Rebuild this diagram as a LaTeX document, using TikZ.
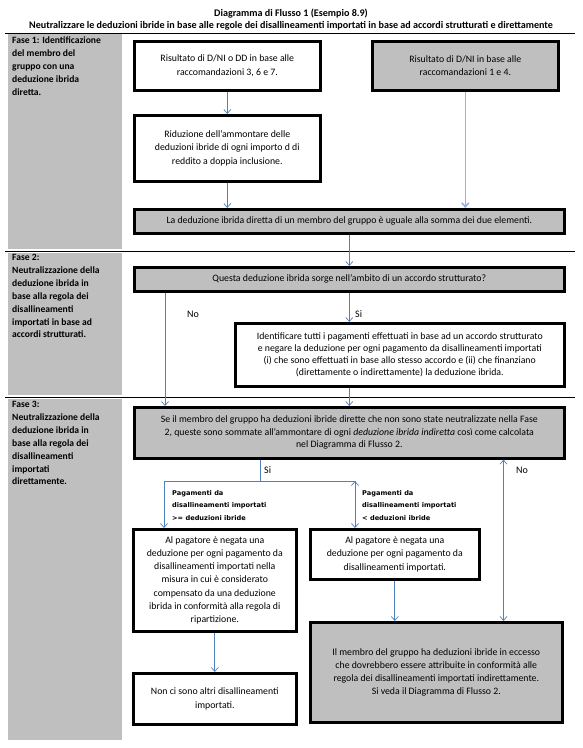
\documentclass[tikz,border=0pt]{standalone}
\usepackage{fontspec}
\setmainfont{Carlito}
\newfontfamily\condfont{DejaVu Sans}
\usetikzlibrary{positioning,arrows.meta}
\definecolor{cellgray}{RGB}{191,191,191}
\definecolor{flowblue}{RGB}{79,129,189}
\definecolor{flowlight}{RGB}{149,179,215}

\begin{document}
\begin{tikzpicture}[x=1pt, y=-1pt,
    box/.style={draw, line width=2.6pt, align=center, anchor=north west, inner sep=1.5pt,
      font=\fontsize{9.8}{13.2}\selectfont},
    greybox/.style={box, fill=cellgray},
    fase/.style={anchor=north west, align=left, inner sep=0pt,
      font=\bfseries\fontsize{9.6}{12.9}\selectfont},
    rule/.style={draw=black, line width=0.7pt},
    flow/.style={draw=flowblue, line width=0.7pt, -{Straight Barb[length=4pt,width=7pt]}},
    lbl/.style={anchor=west, inner sep=0pt, font=\fontsize{10}{12}\selectfont},
    cond/.style={anchor=north west, align=left, inner sep=0pt,
      font=\condfont\bfseries\fontsize{6.6}{12.5}\selectfont}]
  \useasboundingbox (0,0) rectangle (583,748);

  % colonna delle fasi
  \fill[cellgray] (8,34) rectangle (122,249);
  \fill[cellgray] (8,253) rectangle (122,395);
  \fill[cellgray] (8,399) rectangle (122,740);
  \draw[rule] (5,33) -- (575,33);
  \draw[rule] (5,251) -- (575,251);
  \draw[rule] (5,397) -- (575,397);

  \node[font=\bfseries\fontsize{10.1}{11}\selectfont] (titolo) at (291,14) {Diagramma di Flusso 1 (Esempio 8.9)};
  \node[font=\bfseries\fontsize{10.1}{11}\selectfont] (sottotitolo) at (291,26) {Neutralizzare le deduzioni ibride in base alle regole dei disallineamenti importati in base ad accordi strutturati e direttamente};

  \node[fase] (fase1) at (12,37) {Fase 1: Identificazione\\del membro del\\gruppo con una\\deduzione ibrida\\diretta.};
  \node[fase] (fase2) at (12,254) {Fase 2:\\Neutralizzazione della\\deduzione ibrida in\\base alla regola dei\\disallineamenti\\importati in base ad\\accordi strutturati.};
  \node[fase] (fase3) at (12,401) {Fase 3:\\Neutralizzazione della\\deduzione ibrida in\\base alla regola dei\\disallineamenti\\importati\\direttamente.};

  % fase 1
  \node[box, minimum width=186, minimum height=49] (dnidd) at (133,40) {Risultato di D/NI o DD in base alle\\raccomandazioni 3, 6 e 7.};
  \node[greybox, minimum width=186, minimum height=49] (dni) at (371,40) {Risultato di D/NI in base alle\\raccomandazioni 1 e 4.};
  \node[box, minimum width=186, minimum height=66] (riduz) at (133,114) {Riduzione dell’ammontare delle\\deduzioni ibride di ogni importo d di\\reddito a doppia inclusione.};
  \node[greybox, minimum width=430, minimum height=24] (somma) at (133,208) {La deduzione ibrida diretta di un membro del gruppo è uguale alla somma dei due elementi.};

  % fase 2
  \node[greybox, minimum width=430, minimum height=24] (strutt) at (133,266) {Questa deduzione ibrida sorge nell’ambito di un accordo strutturato?};
  \node[box, minimum width=329, minimum height=63, font=\fontsize{9.8}{11.8}\selectfont] (ident) at (234,322) {Identificare tutti i pagamenti effettuati in base ad un accordo strutturato\\e negare la deduzione per ogni pagamento da disallineamenti importati\\(i) che sono effettuati in base allo stesso accordo e (ii) che finanziano\\(direttamente o indirettamente) la deduzione ibrida.};

  % fase 3
  \node[greybox, minimum width=430, minimum height=51, font=\fontsize{9.8}{12.6}\selectfont] (sefase) at (133,406) {Se il membro del gruppo ha deduzioni ibride dirette che non sono state neutralizzate nella Fase\\2, queste sono sommate all’ammontare di ogni \textit{deduzione ibrida indiretta} così come calcolata\\nel Diagramma di Flusso 2.};
  \node[box, minimum width=163, minimum height=102] (negatah) at (132,528) {Al pagatore è negata una\\deduzione per ogni pagamento da\\disallineamenti importati nella\\misura in cui è considerato\\compensato da una deduzione\\ibrida in conformità alla regola di\\ripartizione.};
  \node[box, minimum width=169, minimum height=50] (negatai) at (309,528) {Al pagatore è negata una\\deduzione per ogni pagamento da\\disallineamenti importati.};
  \node[greybox, minimum width=252, minimum height=100] (eccesso) at (309,621) {Il membro del gruppo ha deduzioni ibride in eccesso\\che dovrebbero essere attribuite in conformità alle\\regola dei disallineamenti importati indirettamente.\\Si veda il Diagramma di Flusso 2.};
  \node[box, minimum width=163, minimum height=51] (altri) at (132,672) {Non ci sono altri disallineamenti\\importati.};

  \coordinate (nox) at (165,0);
  \coordinate (sij) at (260,481);
  \coordinate (sil) at (164,481);
  \coordinate (sir) at (355,481);
  \coordinate (noecc) at (503.5,540);

  \path[flow]
    (dnidd) edge (riduz)
    (riduz) edge (riduz.south |- somma.north)
    (somma) edge (strutt)
    (strutt) edge (strutt.south |- ident.north)
    (strutt.south -| nox) edge (nox |- sefase.north)
    (ident.south -| strutt.south) edge (strutt.south |- sefase.north)
    (sil) edge (sil |- negatah.north)
    (sir) edge (sir |- negatai.north)
    (negatai) edge (negatai.south |- eccesso.north)
    (negatah) edge (altri);
  \path[flow] (noecc |- sefase.south) edge (noecc |- eccesso.north);
  \draw[flow, draw=flowlight, line width=1.6pt] (dni) -- (dni.south |- somma.north);
  \draw[flowblue, line width=0.7pt] (sefase.south -| sij) -- (sij);
  \draw[flowblue, line width=0.7pt] (sil) -- (sir);

  \node[lbl] (no1) at (187,314) {No};
  \node[lbl] (si1) at (355,314) {Si};
  \node[lbl] (si2) at (264,470) {Si};
  \node[lbl] (no2) at (516,470) {No};
  \node[cond] (magg) at (172,490) {Pagamenti da\\disallineamenti importati\\>= deduzioni ibride};
  \node[cond] (min) at (362,490) {Pagamenti da\\disallineamenti importati\\< deduzioni ibride};
\end{tikzpicture}
\end{document}
